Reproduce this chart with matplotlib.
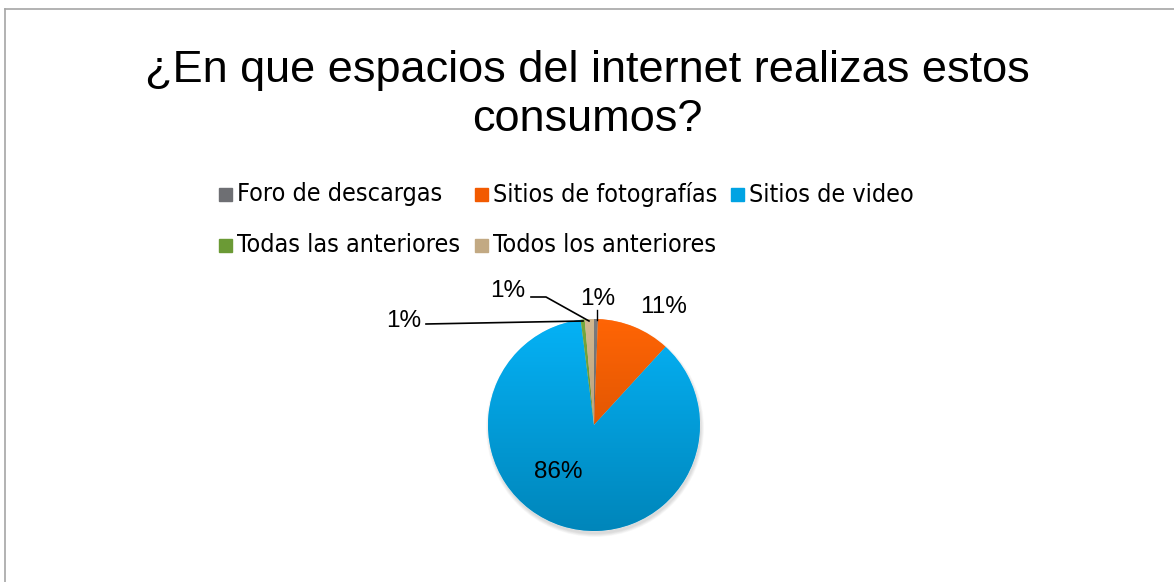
import numpy as np
import matplotlib.pyplot as plt
from matplotlib.lines import Line2D
from matplotlib.colors import to_rgb

categories = ['Foro de descargas', 'Sitios de fotografías', 'Sitios de video',
              'Todas las anteriores', 'Todos los anteriores']
values = [0.6, 11.2, 86.2, 0.6, 1.4]
colors = ['#6e6f73', '#f25a00', '#00a3e3', '#6b9a35', '#c2a983']

fig = plt.figure(figsize=(11.74, 5.82), dpi=100)
ax = fig.add_axes([0, 0, 1, 1])

# chart frame (top and left edge visible)
fig.add_artist(Line2D([5/1174, 1], [1-9/582, 1-9/582], color='#a6a6a6', lw=1.2))
fig.add_artist(Line2D([5/1174, 5/1174], [0, 1-9/582], color='#a6a6a6', lw=1.2))

fig.text(0.5, 1-95/582, '¿En que espacios del internet realizas estos\nconsumos?',
         ha='center', va='center', fontsize=32.5, family='Liberation Sans',
         linespacing=1.25)

cx, cy, r = 594, 582-425, 106

# soft shadow under the pie
for i in range(6):
    ax.add_patch(plt.Circle((cx + 1, cy - 3), r + 3 - i * 0.6, color='black',
                            alpha=0.025, lw=0, zorder=0.5))

wedges, _ = ax.pie(values, colors=colors, startangle=90, counterclock=False,
                   center=(cx, cy), radius=r, frame=True,
                   wedgeprops=dict(linewidth=0.3, edgecolor='white'))

# vertical shading inside each slice (lighter top, darker bottom)
ramp = np.linspace(0, 1, 200)[:, None]
for w, c in zip(wedges, colors):
    base = np.array(to_rgb(c))
    top = np.clip(base * 1.06 + 0.02, 0, 1)
    bot = base * 0.82
    img = top[None, None, :] * (1 - ramp[..., None]) + bot[None, None, :] * ramp[..., None]
    img = np.repeat(img, 2, axis=1)
    im = ax.imshow(img, extent=(cx - r, cx + r, cy - r, cy + r), origin='upper',
                   zorder=w.get_zorder() + 0.1, interpolation='bilinear')
    im.set_clip_path(w)

ax.set_xlim(0, 1174)
ax.set_ylim(0, 582)
ax.set_aspect('equal')
ax.axis('off')

labels = ['%.0f%%' % v for v in values]
lab_font = dict(fontsize=17.5, family='Liberation Sans', color='black', zorder=5)

# label placement in pixel layout
ax.text(598, 582-299, labels[0], ha='center', va='center', **lab_font)
ax.plot([597, 597], [582-310, 582-320], color='black', lw=1, zorder=5)
ax.text(664, 582-307, labels[1], ha='center', va='center', **lab_font)
ax.text(558, 582-472, labels[2], ha='center', va='center', **lab_font)
ax.text(404, 582-321, labels[3], ha='center', va='center', **lab_font)
ax.plot([426, 583], [582-324, 582-321], color='black', lw=1.2, zorder=5)
ax.text(508, 582-291, labels[4], ha='center', va='center', **lab_font)
ax.plot([531, 546, 589], [582-297, 582-297, 582-321], color='black', lw=1.2, zorder=5)

# legend
leg_font = dict(fontsize=18, family='DejaVu Sans', stretch='condensed')
rows = [[(0, 219), (1, 475), (2, 731)], [(3, 219), (4, 475)]]
row_y = [194.5, 245.5]
for ri, row in enumerate(rows):
    y = 582 - row_y[ri]
    for idx, x in row:
        ax.add_patch(plt.Rectangle((x, y - 6.5), 13, 13, color=colors[idx]))
        ax.text(x + 18, y, categories[idx], ha='left', va='center', **leg_font)

fig.savefig('out.png', dpi=100)
